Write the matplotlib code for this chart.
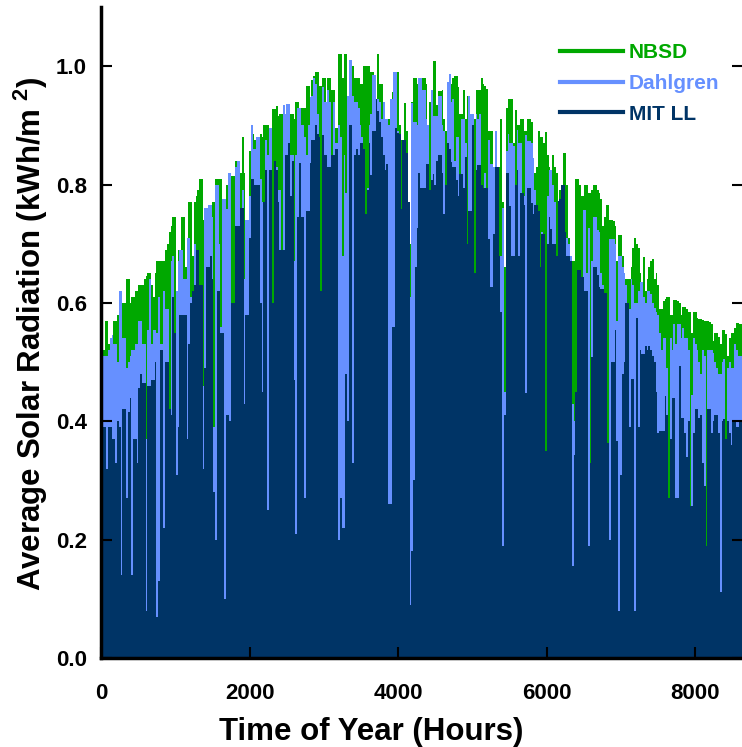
import numpy as np
import matplotlib
matplotlib.use("Agg")
import matplotlib.pyplot as plt
from matplotlib.lines import Line2D

# Daily average solar radiation (kWh/m^2), one value per day
nbsd = [
 0.54, 0.52, 0.57, 0.57, 0.53, 0.54, 0.51, 0.57, 0.57, 0.58,
 0.55, 0.55, 0.60, 0.60, 0.64, 0.64, 0.60, 0.61, 0.61, 0.62,
 0.62, 0.63, 0.63, 0.63, 0.64, 0.645, 0.65, 0.65, 0.63, 0.61,
 0.65, 0.67, 0.67, 0.67, 0.67, 0.67, 0.69, 0.70, 0.72, 0.73,
 0.745, 0.745, 0.58, 0.69, 0.67, 0.745, 0.745, 0.66, 0.70, 0.77,
 0.77, 0.68, 0.77, 0.78, 0.79, 0.81, 0.81, 0.74, 0.73, 0.75,
 0.76, 0.72, 0.77, 0.77, 0.81, 0.81, 0.81, 0.81, 0.76, 0.72,
 0.80, 0.82, 0.82, 0.815, 0.815, 0.84, 0.84, 0.82, 0.82, 0.88,
 0.82, 0.74, 0.74, 0.856, 0.885, 0.885, 0.875, 0.856, 0.856, 0.885,
 0.88, 0.90, 0.90, 0.90, 0.89, 0.89, 0.927, 0.927, 0.932, 0.915,
 0.92, 0.92, 0.915, 0.92, 0.92, 0.92, 0.92, 0.92, 0.91, 0.94,
 0.94, 0.92, 0.93, 0.93, 0.93, 0.967, 0.967, 0.948, 0.976, 0.983,
 0.99, 0.99, 0.967, 0.967, 0.98, 0.98, 0.94, 0.98, 0.98, 0.96,
 0.96, 0.895, 0.895, 1.02, 1.02, 0.98, 1.02, 1.02, 0.95, 1.01,
 1.01, 1.0, 0.98, 0.98, 0.98, 0.97, 0.97, 1.0, 1.0, 1.0,
 1.0, 0.99, 0.99, 0.94, 0.94, 1.02, 0.97, 0.97, 0.90, 0.90,
 0.91, 0.91, 0.91, 0.957, 0.98, 0.99, 0.99, 0.90, 0.875, 0.875,
 0.937, 0.89, 0.77, 0.70, 0.94, 0.98, 0.98, 0.97, 0.98, 0.98,
 0.98, 0.98, 0.97, 0.90, 0.94, 0.96, 1.008, 1.008, 0.935, 0.958,
 0.958, 0.96, 0.91, 0.89, 0.97, 0.985, 0.97, 0.98, 0.984, 0.984,
 0.965, 0.92, 0.92, 0.96, 0.91, 0.95, 0.95, 0.92, 0.92, 0.91,
 0.96, 0.96, 0.96, 0.98, 0.97, 0.967, 0.962, 0.89, 0.89, 0.89,
 0.83, 0.83, 0.82, 0.83, 0.91, 0.77, 0.66, 0.93, 0.944, 0.944,
 0.944, 0.87, 0.926, 0.90, 0.90, 0.91, 0.91, 0.89, 0.89, 0.91,
 0.91, 0.905, 0.84, 0.82, 0.83, 0.89, 0.88, 0.88, 0.87, 0.888,
 0.85, 0.83, 0.81, 0.85, 0.83, 0.82, 0.77, 0.79, 0.79, 0.853,
 0.853, 0.80, 0.71, 0.67, 0.67, 0.67, 0.81, 0.81, 0.80, 0.78,
 0.78, 0.80, 0.80, 0.786, 0.786, 0.79, 0.80, 0.80, 0.79, 0.785,
 0.775, 0.73, 0.745, 0.765, 0.765, 0.74, 0.74, 0.738, 0.73, 0.67,
 0.714, 0.714, 0.68, 0.64, 0.64, 0.64, 0.64, 0.66, 0.692, 0.709,
 0.70, 0.692, 0.65, 0.62, 0.678, 0.62, 0.64, 0.66, 0.671, 0.674,
 0.64, 0.65, 0.63, 0.59, 0.59, 0.603, 0.607, 0.61, 0.61, 0.58,
 0.58, 0.605, 0.605, 0.604, 0.60, 0.58, 0.593, 0.593, 0.59, 0.584,
 0.584, 0.55, 0.584, 0.584, 0.574, 0.572, 0.572, 0.571, 0.57, 0.57,
 0.57, 0.567, 0.565, 0.535, 0.55, 0.55, 0.542, 0.53, 0.554, 0.554,
 0.548, 0.51, 0.54, 0.55, 0.55, 0.558, 0.566, 0.566, 0.564, 0.564,
]

dahlgren = [
 0.29, 0.51, 0.51, 0.51, 0.52, 0.54, 0.545, 0.53, 0.53, 0.50,
 0.62, 0.62, 0.54, 0.54, 0.49, 0.50, 0.51, 0.52, 0.52, 0.53,
 0.53, 0.57, 0.57, 0.53, 0.53, 0.37, 0.555, 0.64, 0.53, 0.555,
 0.555, 0.55, 0.61, 0.53, 0.53, 0.62, 0.59, 0.59, 0.42, 0.67,
 0.68, 0.55, 0.62, 0.67, 0.69, 0.69, 0.64, 0.64, 0.71, 0.71,
 0.61, 0.62, 0.70, 0.69, 0.69, 0.52, 0.61, 0.46, 0.76, 0.76,
 0.765, 0.765, 0.745, 0.39, 0.80, 0.80, 0.70, 0.56, 0.775, 0.775,
 0.758, 0.82, 0.82, 0.55, 0.55, 0.83, 0.84, 0.84, 0.76, 0.79,
 0.64, 0.74, 0.74, 0.78, 0.90, 0.86, 0.86, 0.88, 0.88, 0.81,
 0.77, 0.77, 0.876, 0.85, 0.895, 0.895, 0.60, 0.83, 0.83, 0.79,
 0.79, 0.69, 0.934, 0.92, 0.936, 0.936, 0.85, 0.85, 0.67, 0.85,
 0.93, 0.93, 0.90, 0.90, 0.88, 0.85, 0.90, 0.948, 0.95, 0.98,
 0.97, 0.92, 0.88, 0.62, 0.965, 0.94, 0.94, 0.96, 0.94, 0.85,
 0.94, 0.87, 0.87, 0.90, 0.88, 0.68, 0.85, 0.785, 0.95, 1.01,
 1.01, 0.95, 0.94, 0.94, 0.93, 0.90, 0.88, 0.86, 0.75, 0.795,
 0.90, 0.92, 0.985, 0.985, 0.945, 0.945, 0.94, 0.91, 0.94, 0.91,
 0.91, 0.90, 0.944, 0.944, 0.99, 0.99, 0.89, 0.758, 0.758, 0.85,
 0.85, 0.85, 0.77, 0.61, 0.937, 0.905, 0.905, 0.90, 0.98, 0.98,
 0.96, 0.96, 0.91, 0.90, 0.78, 0.96, 0.915, 0.915, 0.915, 0.95,
 0.95, 0.90, 0.89, 0.78, 0.973, 0.986, 0.94, 0.945, 0.84, 0.88,
 0.88, 0.77, 0.91, 0.91, 0.87, 0.68, 0.95, 0.92, 0.92, 0.65,
 0.92, 0.91, 0.92, 0.68, 0.795, 0.82, 0.728, 0.876, 0.835, 0.835,
 0.83, 0.89, 0.83, 0.68, 0.68, 0.76, 0.45, 0.856, 0.885, 0.87,
 0.87, 0.865, 0.80, 0.893, 0.87, 0.87, 0.78, 0.78, 0.883, 0.873,
 0.873, 0.87, 0.845, 0.79, 0.755, 0.755, 0.65, 0.72, 0.69, 0.35,
 0.78, 0.825, 0.825, 0.80, 0.77, 0.68, 0.77, 0.77, 0.77, 0.80,
 0.72, 0.71, 0.70, 0.68, 0.43, 0.40, 0.45, 0.65, 0.65, 0.63,
 0.757, 0.757, 0.65, 0.726, 0.30, 0.67, 0.745, 0.745, 0.723, 0.72,
 0.65, 0.63, 0.617, 0.617, 0.36, 0.708, 0.708, 0.708, 0.70, 0.57,
 0.68, 0.68, 0.66, 0.65, 0.63, 0.60, 0.59, 0.64, 0.63, 0.60,
 0.60, 0.62, 0.636, 0.636, 0.61, 0.60, 0.62, 0.62, 0.615, 0.60,
 0.592, 0.585, 0.58, 0.55, 0.52, 0.54, 0.54, 0.49, 0.27, 0.54,
 0.52, 0.565, 0.53, 0.565, 0.565, 0.54, 0.557, 0.54, 0.54, 0.52,
 0.256, 0.445, 0.54, 0.53, 0.52, 0.50, 0.48, 0.52, 0.51, 0.19,
 0.52, 0.52, 0.52, 0.515, 0.50, 0.49, 0.48, 0.48, 0.50, 0.505,
 0.37, 0.49, 0.50, 0.49, 0.49, 0.53, 0.52, 0.51, 0.51, 0.51,
]

mit_ll = [
 0.29, 0.39, 0.39, 0.32, 0.39, 0.39, 0.37, 0.37, 0.33, 0.40,
 0.39, 0.14, 0.42, 0.42, 0.27, 0.415, 0.44, 0.14, 0.37, 0.37,
 0.33, 0.457, 0.48, 0.465, 0.465, 0.08, 0.46, 0.46, 0.47, 0.47,
 0.50, 0.07, 0.13, 0.52, 0.52, 0.22, 0.50, 0.50, 0.42, 0.41,
 0.61, 0.55, 0.31, 0.39, 0.58, 0.58, 0.58, 0.58, 0.37, 0.53,
 0.60, 0.62, 0.63, 0.69, 0.69, 0.63, 0.63, 0.32, 0.49, 0.66,
 0.66, 0.68, 0.64, 0.28, 0.20, 0.62, 0.62, 0.55, 0.55, 0.10,
 0.41, 0.41, 0.40, 0.60, 0.60, 0.73, 0.73, 0.73, 0.76, 0.76,
 0.43, 0.58, 0.58, 0.71, 0.81, 0.81, 0.80, 0.80, 0.80, 0.60,
 0.45, 0.77, 0.825, 0.25, 0.825, 0.825, 0.60, 0.84, 0.825, 0.77,
 0.69, 0.69, 0.69, 0.85, 0.85, 0.87, 0.78, 0.84, 0.47, 0.21,
 0.745, 0.837, 0.745, 0.745, 0.27, 0.755, 0.755, 0.837, 0.875, 0.875,
 0.90, 0.886, 0.88, 0.62, 0.883, 0.85, 0.85, 0.83, 0.83, 0.85,
 0.85, 0.86, 0.86, 0.20, 0.27, 0.22, 0.22, 0.48, 0.40, 0.90,
 0.90, 0.33, 0.85, 0.86, 0.85, 0.87, 0.87, 0.86, 0.75, 0.79,
 0.87, 0.816, 0.89, 0.89, 0.945, 0.925, 0.905, 0.88, 0.85, 0.825,
 0.835, 0.26, 0.26, 0.56, 0.56, 0.895, 0.887, 0.885, 0.758, 0.875,
 0.875, 0.853, 0.77, 0.09, 0.18, 0.30, 0.66, 0.726, 0.82, 0.795,
 0.795, 0.795, 0.835, 0.835, 0.79, 0.807, 0.818, 0.80, 0.84, 0.85,
 0.85, 0.82, 0.75, 0.80, 0.87, 0.86, 0.838, 0.83, 0.83, 0.807,
 0.78, 0.818, 0.818, 0.795, 0.846, 0.70, 0.755, 0.755, 0.90, 0.65,
 0.825, 0.833, 0.833, 0.80, 0.795, 0.795, 0.795, 0.708, 0.627, 0.627,
 0.716, 0.83, 0.83, 0.68, 0.585, 0.19, 0.41, 0.82, 0.82, 0.763,
 0.68, 0.68, 0.80, 0.825, 0.68, 0.785, 0.785, 0.765, 0.447, 0.795,
 0.795, 0.768, 0.75, 0.765, 0.765, 0.755, 0.66, 0.716, 0.716, 0.35,
 0.70, 0.745, 0.725, 0.70, 0.70, 0.68, 0.773, 0.775, 0.80, 0.80,
 0.72, 0.68, 0.68, 0.67, 0.156, 0.343, 0.45, 0.655, 0.655, 0.644,
 0.644, 0.62, 0.62, 0.19, 0.33, 0.508, 0.66, 0.66, 0.648, 0.627,
 0.623, 0.623, 0.617, 0.617, 0.363, 0.20, 0.50, 0.50, 0.554, 0.367,
 0.08, 0.31, 0.48, 0.50, 0.60, 0.60, 0.39, 0.472, 0.472, 0.08,
 0.574, 0.39, 0.52, 0.514, 0.514, 0.527, 0.52, 0.527, 0.52, 0.51,
 0.50, 0.45, 0.38, 0.383, 0.383, 0.383, 0.443, 0.41, 0.27, 0.37,
 0.44, 0.44, 0.27, 0.27, 0.494, 0.405, 0.405, 0.38, 0.34, 0.40,
 0.256, 0.256, 0.38, 0.42, 0.42, 0.405, 0.41, 0.33, 0.29, 0.19,
 0.42, 0.42, 0.38, 0.40, 0.41, 0.41, 0.38, 0.112, 0.40, 0.403,
 0.37, 0.40, 0.38, 0.36, 0.40, 0.40, 0.39, 0.39, 0.40, 0.40,
]

series_names = ["NBSD", "Dahlgren", "MIT LL"]
series_colors = ["#00A800", "#6690FF", "#003466"]
hours_per_day = 24
x_ticks = [0, 2000, 4000, 6000, 8000]
y_ticks = [0.0, 0.2, 0.4, 0.6, 0.8, 1.0]

plt.rcParams['font.family'] = ['Liberation Sans', 'DejaVu Sans']
plt.rcParams['font.weight'] = 'bold'
plt.rcParams['mathtext.fontset'] = 'custom'
plt.rcParams['mathtext.bf'] = 'Liberation Sans:bold'
plt.rcParams['mathtext.rm'] = 'Liberation Sans:bold'

fig = plt.figure(figsize=(7.42, 7.47), dpi=100)
ax = fig.add_axes([101/742, 89/747, 642/742, 651/747])

n_days = len(nbsd)
edges = np.arange(n_days + 1) * hours_per_day
for vals, col in zip([nbsd, dahlgren, mit_ll], series_colors):
    ax.stairs(vals, edges, fill=True, color=col, linewidth=0)

ax.set_xlim(0, 8640)
ax.set_ylim(0, 1.1)
ax.set_xticks(x_ticks)
ax.set_yticks(y_ticks)
ax.set_yticklabels([f"{v:.1f}" for v in y_ticks])

for s in ['top', 'right']:
    ax.spines[s].set_visible(False)
for s in ['left', 'bottom']:
    ax.spines[s].set_linewidth(2.5)
    ax.spines[s].set_color('black')
    ax.spines[s].set_zorder(5)

ax.tick_params(axis='x', direction='in', length=8, width=1.5, labelsize=16, pad=18)
ax.tick_params(axis='y', direction='in', length=8, width=1.5, labelsize=16, pad=10,
               right=True)

ax.set_xlabel("Time of Year (Hours)", fontsize=22.5, fontweight='bold')
ax.xaxis.set_label_coords((371 - 101) / 642, -0.090)
ax.set_ylabel(r"Average Solar Radiation (kWh/m$^{\ \mathbf{2}}$)", fontsize=22.5,
              fontweight='bold')
ax.yaxis.set_label_coords((50 - 101) / 642, (658 - 334) / 651)

handles = [Line2D([], [], color=c, lw=3) for c in series_colors]
leg = fig.legend(handles, series_names, loc='upper left',
                 bbox_to_anchor=(560/742, 1 - 43/747), frameon=False,
                 handlelength=3.0, handletextpad=0.3,
                 labelspacing=0.57, borderpad=0, borderaxespad=0,
                 labelcolor='linecolor', prop={'weight': 'bold', 'size': 15})

fig.savefig("out.png", dpi=100)
